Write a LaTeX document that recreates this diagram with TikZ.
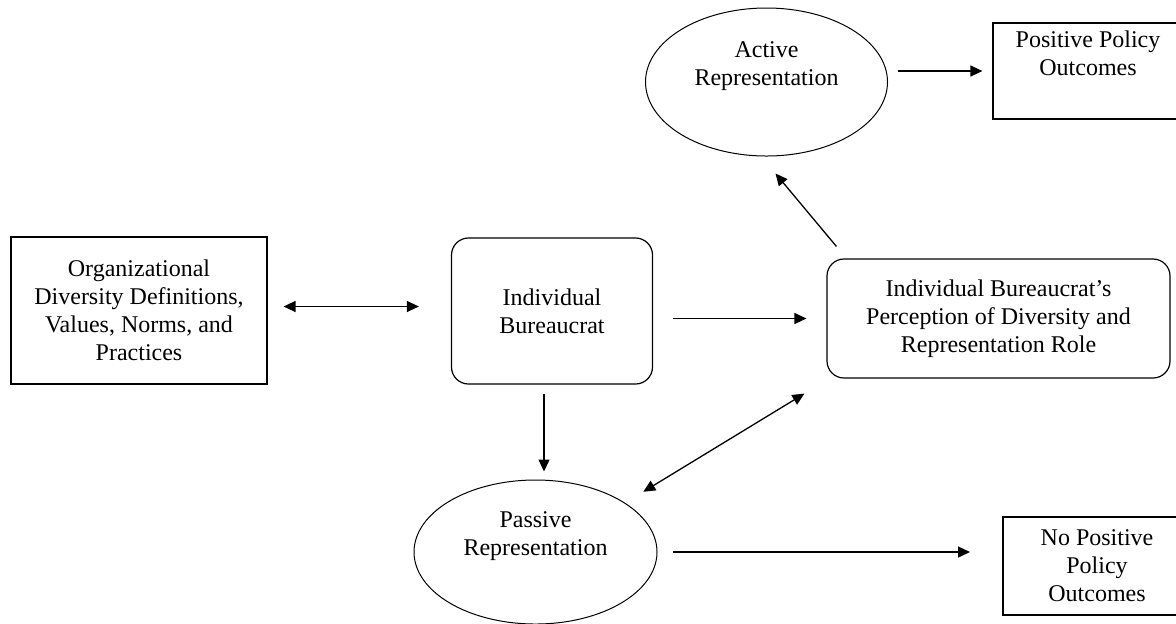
\documentclass[tikz,border=0pt]{standalone}
\usepackage{fontspec}
\setmainfont{Liberation Serif}
\usetikzlibrary{arrows.meta,shapes.geometric}

\begin{document}
\begin{tikzpicture}[x=0.5pt,y=-0.5pt,>={Triangle[length=6pt,width=5.5pt]},
  every node/.style={align=center,inner sep=0pt,font=\fontsize{12pt}{14pt}\selectfont},
  box/.style={draw,rectangle,line width=0.6pt},
  rbox/.style={draw,rectangle,rounded corners=8.5pt,line width=0.6pt},
  oval/.style={draw,ellipse,line width=0.5pt},
  link/.style={line width=0.65pt}]
  % Frame
  \useasboundingbox (0,0) rectangle (1176,623);
  %
  % Boxes
  \node[box,minimum width=128pt,minimum height=73.5pt] (org) at (139,310.5)
    {Organizational\\Diversity Definitions,\\Values, Norms, and\\Practices};
  \node[rbox,minimum width=100.5pt,minimum height=73pt] (ib) at (552,311)
    {Individual\\Bureaucrat};
  \node[rbox,minimum width=171.5pt,minimum height=59.5pt] (perc) at (998.5,318.5)
    {Individual Bureaucrat’s\\Perception of Diversity and\\Representation Role};
  \node[box,minimum width=95pt,minimum height=48pt] (pos) at (1088,71)
    {Positive Policy\\Outcomes\\\strut};
  \node[box,line width=1pt,minimum width=94pt,minimum height=49pt] (nopos) at (1097,566)
    {No Positive\\Policy\\Outcomes};
  %
  % Ovals
  \node[oval,minimum width=121pt,minimum height=74pt] (active) at (766.5,82)
    {Active\\Representation\\\strut};
  \node[oval,minimum width=121.5pt,minimum height=72pt] (passive) at (535.5,552)
    {Passive\\Representation\\\strut};
  %
  % Arrows
  \draw[link,<->,shorten <=8pt,shorten >=16pt] ([yshift=2pt]org.east)
    -- ([yshift=2pt]org.east -| ib.west);
  \draw[link,->,shorten <=10pt,shorten >=10pt] (ib.east |- perc.west) -- (perc.west);
  \draw[link,->,shorten <=4.5pt,shorten >=4pt] ([xshift=-4pt]ib.south)
    -- ([xshift=-4pt]ib.south |- passive.north);
  \draw[link,<->] ([shift={(-11pt,-7.5pt)}]perc.south west)
    -- ([shift={(10.75pt,4.5pt)}]passive.north east);
  \draw[link,->] ([shift={(5pt,6pt)}]perc.north west)
    -- ([shift={(4.5pt,-8.5pt)}]active.south);
  \draw[link,->,shorten <=4.75pt,shorten >=5pt] (active.east |- pos.west) -- (pos.west);
  \draw[link,->,shorten <=7.5pt,shorten >=16pt] (passive.east)
    -- (passive.east -| nopos.west);
  %
\end{tikzpicture}
\end{document}
